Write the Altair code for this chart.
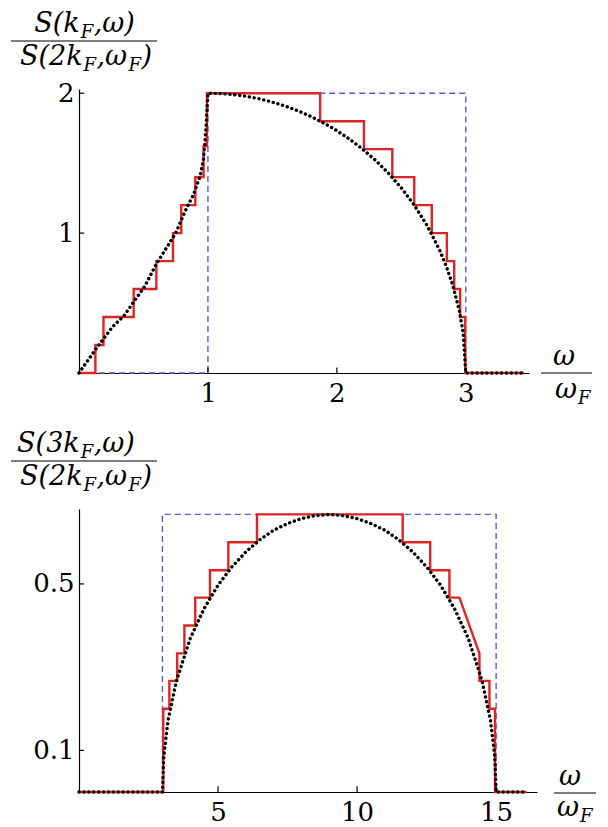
import altair as alt
import pandas as pd

FONT = "DejaVu Serif"

# ---------------- top panel: S(kF, w) ----------------
top_dot_x = [0, 0.13, 0.26, 0.35, 0.51, 0.60, 0.75, 0.82, 0.89, 0.94, 0.966, 0.984, 1.0,
             1.1, 1.2, 1.3, 1.4, 1.5, 1.6, 1.7, 1.8, 1.9, 2.0, 2.1, 2.2, 2.3, 2.4, 2.5,
             2.6, 2.7, 2.8, 2.85, 2.9, 2.95, 2.98, 3.0, 3.45]
top_dot_y = [0, 0.17, 0.33, 0.41, 0.62, 0.78, 1.0, 1.15, 1.28, 1.41, 1.53, 1.74, 2.0,
             1.998, 1.99, 1.977, 1.96, 1.936, 1.908, 1.873, 1.833, 1.786, 1.732, 1.67, 1.6,
             1.52, 1.428, 1.323, 1.2, 1.054, 0.872, 0.76, 0.624, 0.444, 0.282, 0, 0]

top_red_x = [0, 0.127, 0.127, 0.19, 0.19, 0.424, 0.424, 0.60, 0.60, 0.729, 0.729, 0.793,
             0.793, 0.902, 0.902, 0.966, 0.966, 0.992, 0.992, 1.87, 1.87, 2.21, 2.21, 2.43,
             2.43, 2.60, 2.60, 2.736, 2.736, 2.853, 2.853, 2.91, 2.91, 2.956, 2.956, 2.995,
             2.995, 3.45]
top_red_y = [0, 0, 0.2, 0.2, 0.4, 0.4, 0.6, 0.6, 0.8, 0.8, 1.0, 1.0,
             1.2, 1.2, 1.4, 1.4, 1.62, 1.62, 2.0, 2.0, 1.8, 1.8, 1.6, 1.6,
             1.4, 1.4, 1.2, 1.2, 1.0, 1.0, 0.8, 0.8, 0.6, 0.6, 0.4, 0.4,
             0, 0]

top_blue_x = [0, 1, 1, 3, 3]
top_blue_y = [0, 0, 2, 2, 0]

top_xticks = [1, 2, 3]
top_yticks = [1, 2]

# ---------------- bottom panel: S(3kF, w) ----------------
bot_dot_x = [0, 3, 3.05, 3.2, 3.5, 4, 4.5, 5, 5.5, 6, 6.5, 7, 7.5, 8, 8.5, 9, 9.5, 10,
             10.5, 11, 11.5, 12, 12.5, 13, 13.5, 14, 14.5, 14.8, 14.95, 15, 16.1]
bot_dot_y = [0, 0, 0.086, 0.171, 0.266, 0.369, 0.441, 0.497, 0.541, 0.577, 0.606, 0.629,
             0.645, 0.657, 0.664, 0.667, 0.664, 0.657, 0.645, 0.629, 0.606, 0.577, 0.541,
             0.497, 0.441, 0.369, 0.266, 0.171, 0.086, 0, 0]

bot_red_x = [0, 3.03, 3.03, 3.25, 3.25, 3.53, 3.53, 3.79, 3.79, 4.18, 4.18, 4.71, 4.71,
             5.37, 5.37, 6.40, 6.40, 11.64, 11.64, 12.63, 12.63, 13.32, 13.32, 13.68,
             14.40, 14.40, 14.76, 14.76, 14.96, 14.96, 16.1]
bot_red_y = [0, 0, 0.2, 0.2, 0.267, 0.267, 0.333, 0.333, 0.4, 0.4, 0.467, 0.467, 0.533,
             0.533, 0.6, 0.6, 0.667, 0.667, 0.6, 0.6, 0.533, 0.533, 0.467, 0.467,
             0.333, 0.267, 0.267, 0.2, 0.2, 0, 0]

bot_blue_x = [3, 3, 15, 15]
bot_blue_y = [0, 0.667, 0.667, 0]

bot_xticks = [5, 10, 15]
bot_yticks = [0.1, 0.5]


def seq(xs, ys):
    return pd.DataFrame({"x": xs, "y": ys, "i": list(range(len(xs)))})


def txt(s, x, y, size=27, italic=True, align="left"):
    kw = dict(text=s, font=FONT, fontSize=size, color="black", align=align,
              baseline="alphabetic")
    if italic:
        kw["fontStyle"] = "italic"
    return alt.Chart(pd.DataFrame({"v": [0]})).mark_text(**kw).encode(
        x=alt.value(x), y=alt.value(y))


def bar(x1, x2, y):
    return alt.Chart(pd.DataFrame({"v": [0]})).mark_rule(color="black", strokeWidth=1.2).encode(
        x=alt.value(x1), x2=alt.value(x2), y=alt.value(y))


def ylabel(num_k):
    # fraction S(num_k kF, w) / S(2kF, wF), positioned left/above the plot
    layers = []
    a = 0.7
    layers.append(txt("S(" + num_k + "k", a, -57, align="right"))
    layers.append(txt("F", a + 1, -51, size=18))
    layers.append(txt(",ω)", a + 14, -57))
    layers.append(bar(-68, 78, -48))
    b = 3.5
    layers.append(txt("S(2k", b, -24, align="right"))
    layers.append(txt("F", b + 1, -18, size=18))
    layers.append(txt(",ω", b + 14, -24))
    layers.append(txt("F", b + 46, -18, size=18))
    layers.append(txt(")", b + 59, -24))
    return layers


def xlabel(cx_num, base_num, bx1, bx2, by, anchor_den, base_den):
    return [
        txt("ω", cx_num, base_num, align="center"),
        bar(bx1, bx2, by),
        txt("ω", anchor_den, base_den, align="right"),
        txt("F", anchor_den + 1, base_den + 6, size=18),
    ]


def panel(dot_x, dot_y, red_x, red_y, blue_x, blue_y, xticks, yticks, xdom, ydom,
          w, h, yfmt, xtick_len, ytick_len, extra):
    xs = alt.Scale(domain=xdom, nice=False, zero=False)
    ys = alt.Scale(domain=ydom, nice=False, zero=False)
    xax = alt.Axis(values=xticks, ticks=False, grid=False, title=None, labelFont=FONT,
                   labelFontSize=26, labelColor="black", domainColor="black",
                   domainWidth=1.2, labelPadding=7, labelFlush=False, format="d")
    yax = alt.Axis(values=yticks, ticks=False, grid=False, title=None, labelFont=FONT,
                   labelFontSize=26, labelColor="black", domainColor="black",
                   domainWidth=1.2, labelPadding=5, format=yfmt)
    X = alt.X("x:Q", scale=xs, axis=xax)
    Y = alt.Y("y:Q", scale=ys, axis=yax)

    blue = alt.Chart(seq(blue_x, blue_y)).mark_line(
        color="#5a5ad2", strokeDash=[6, 4], strokeWidth=1.4).encode(x=X, y=Y, order="i:Q")
    red = alt.Chart(seq(red_x, red_y)).mark_line(
        color="#e02424", strokeWidth=2.4).encode(x=X, y=Y, order="i:Q")
    dot = alt.Chart(seq(dot_x, dot_y)).mark_line(
        color="black", strokeDash=[0.1, 4.8], strokeCap="round", strokeWidth=3.4).encode(
        x=X, y=Y, order="i:Q")

    xt = pd.DataFrame({"x": xticks, "y": [0] * len(xticks), "y1": [xtick_len] * len(xticks)})
    yt = pd.DataFrame({"y": yticks, "x": [xdom[0]] * len(yticks), "x1": [ytick_len] * len(yticks)})
    xtick = alt.Chart(xt).mark_rule(color="black", strokeWidth=1.2).encode(x=X, y=Y, y2="y1:Q")
    ytick = alt.Chart(yt).mark_rule(color="black", strokeWidth=1.2).encode(x=X, x2="x1:Q", y=Y)

    return alt.layer(blue, red, dot, xtick, ytick, *extra).properties(width=w, height=h)


top = panel(top_dot_x, top_dot_y, top_red_x, top_red_y, top_blue_x, top_blue_y,
            top_xticks, top_yticks, [0, 3.49], [0, 2.03], 450, 284, "d", 0.04, 0.04,
            ylabel("") + xlabel(485, 276, 462, 513, 284, 498, 309))

bottom = panel(bot_dot_x, bot_dot_y, bot_red_x, bot_red_y, bot_blue_x, bot_blue_y,
               bot_xticks, bot_yticks, [0, 16.47], [0, 0.68], 458, 283, ".1f", 0.014, 0.18,
               ylabel("3") + xlabel(491, 276, 475, 517, 284, 500, 307))

chart = alt.vconcat(top, bottom, spacing=136, bounds="flush").properties(
    padding={"left": 2, "top": 2, "right": 2, "bottom": 2}
).configure_view(stroke=None)

chart.save("out.html", embed_options={"renderer": "svg", "actions": False})
